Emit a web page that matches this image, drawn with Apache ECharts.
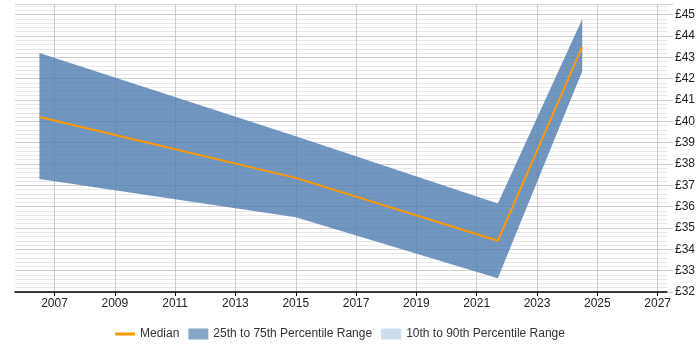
<!DOCTYPE html>
<html>
<head>
<meta charset="utf-8">
<script src="https://cdn.jsdelivr.net/npm/echarts@6/dist/echarts.min.js"></script>
<style>
  html, body { margin: 0; padding: 0; background: #fff; }
  #main { width: 700px; height: 350px; }
</style>
</head>
<body>
<div id="main"></div>
<script>
// data
var years = [2006.5, 2015.0, 2021.7, 2024.5];
var p25 = [37.3, 35.5, 32.65, 42.35];
var median = [40.2, 37.35, 34.4, 43.5];
var p75 = [43.2, 39.3, 36.15, 44.8];
var yearTicks = [2007, 2009, 2011, 2013, 2015, 2017, 2019, 2021, 2023, 2025, 2027];

var chart = echarts.init(document.getElementById("main"));
var font = "Liberation Sans, Arial, sans-serif";

// band polygon: upper edge left->right, then lower edge right->left
function renderBand(params, api) {
  if (params.dataIndex !== 0) return;
  var pts = [];
  for (var i = 0; i < years.length; i++) pts.push(api.coord([years[i], p75[i]]));
  for (var j = years.length - 1; j >= 0; j--) pts.push(api.coord([years[j], p25[j]]));
  return {
    type: "polygon",
    shape: { points: pts },
    style: { fill: "rgba(78,124,175,0.8)" }
  };
}

var option = {
  animation: false,
  grid: { left: 15, right: 33, top: 4, bottom: 58 },
  xAxis: {
    type: "value",
    min: 2005.69,
    max: 2027.31,
    axisLine: { show: true, lineStyle: { color: "#000", width: 1.5 } },
    axisTick: { show: true, length: 4, customValues: yearTicks, lineStyle: { color: "#000" } },
    axisLabel: {
      customValues: yearTicks,
      formatter: function (v) { return String(v); },
      color: "#222", fontSize: 12, fontFamily: font, margin: 6
    },
    splitLine: { show: true, lineStyle: { color: "#cccccc" } }
  },
  yAxis: {
    type: "value",
    position: "right",
    min: 32,
    max: 45.5,
    interval: 1,
    axisLine: { show: false },
    axisTick: { show: true, length: 6, lineStyle: { color: "#cccccc" } },
    axisLabel: {
      formatter: function (v) { return v > 45 ? "" : "£" + v; },
      color: "#222", fontSize: 12, fontFamily: font, margin: 8
    },
    splitLine: { show: true, lineStyle: { color: "#d0d0d0" } },
    minorTick: { show: false, splitNumber: 5 },
    minorSplitLine: { show: true, lineStyle: { color: "#e8e8e8" } }
  },
  legend: {
    left: 110,
    top: 323,
    itemWidth: 20,
    itemHeight: 11,
    itemGap: 9,
    textStyle: { color: "#333", fontSize: 12, fontFamily: font },
    data: [
      { name: "Median", icon: "path://M0,4 L20,4 L20,7 L0,7 Z", itemStyle: { color: "#ff9900" } },
      { name: "25th to 75th Percentile Range", icon: "rect", itemStyle: { color: "#87a5c5" } },
      { name: "10th to 90th Percentile Range", icon: "rect", itemStyle: { color: "#ccdded" } }
    ]
  },
  series: [
    {
      name: "25th to 75th Percentile Range",
      type: "custom",
      renderItem: renderBand,
      data: years.map(function (x, i) { return [x, p25[i], p75[i]]; }),
      encode: { x: 0, y: [1, 2] },
      itemStyle: { color: "#87a5c5" },
      silent: true
    },
    {
      name: "10th to 90th Percentile Range",
      type: "line",
      data: [],
      itemStyle: { color: "#ccdded" }
    },
    {
      name: "Median",
      type: "line",
      data: years.map(function (x, i) { return [x, median[i]]; }),
      symbol: "none",
      z: 5,
      lineStyle: { color: "#ff9900", width: 2 },
      itemStyle: { color: "#ff9900" }
    }
  ]
};

chart.setOption(option);
</script>
</body>
</html>
